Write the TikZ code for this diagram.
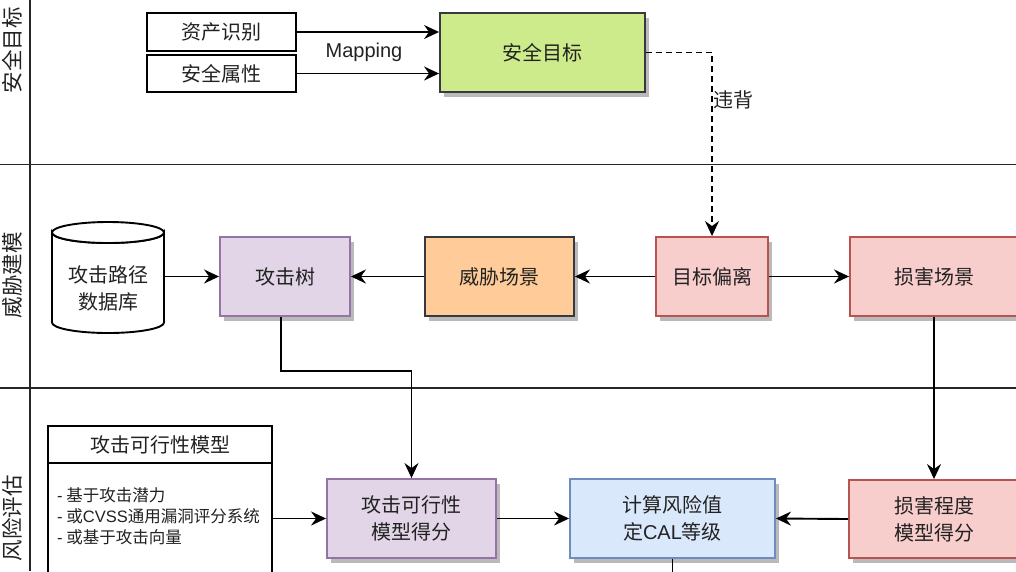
\documentclass[tikz,border=0pt]{standalone}
\usepackage{fontspec}
\setmainfont{Noto Sans CJK SC}
\newfontfamily\lat{Liberation Sans}
\usetikzlibrary{arrows.meta,shadows}
\newcommand\myfbig{\fontsize{20}{27}\selectfont}
\newcommand\myfsmall{\fontsize{16.5}{21}\selectfont}
\newcommand\myflane{\fontsize{21.5}{26}\selectfont}
\definecolor{gfill}{HTML}{CDEB8B}
\definecolor{dkline}{HTML}{36393D}
\definecolor{ofill}{HTML}{FFCC99}
\definecolor{rfill}{HTML}{F8CECC}
\definecolor{rline}{HTML}{B85450}
\definecolor{pfill}{HTML}{E1D5E7}
\definecolor{pline}{HTML}{9673A6}
\definecolor{bfill}{HTML}{DAE8FC}
\definecolor{bline}{HTML}{6C8EBF}
\definecolor{txt}{HTML}{222222}
\tikzset{
  box/.style={draw, line width=1.9pt, inner sep=0pt, align=center, font=\myfbig, text=txt},
  shad/.style={drop shadow={shadow xshift=4pt, shadow yshift=-4.5pt, fill=black!27, opacity=1}},
  arr/.style={-{Stealth[length=15pt,width=14pt,inset=5pt]}, line width=1.9pt},
  lane/.style={line width=1.4pt, draw=black!85},
  lanelabel/.style={rotate=90, font=\myflane, text=txt, inner sep=0pt},
  lbl/.style={font=\myfbig, text=txt, inner sep=0pt},
  cyl/.style={line width=1.9pt, fill=white},
}
\begin{document}
\begin{tikzpicture}[x=1pt,y=-1pt]
\useasboundingbox (0,0) rectangle (1016,571);
\fill[white] (0,0) rectangle (1016,571);
% swimlanes
\draw[lane] (30,0) -- (30,571);
\draw[lane] (0,164.5) -- (1016,164.5);
\draw[lane] (0,388) -- (1016,388);
\node[lanelabel] (l1) at (12,50) {安全目标};
\node[lanelabel] (l2) at (12,275) {威胁建模};
\node[lanelabel] (l3) at (12,518) {风险评估};
% lane 1
\node[box, fill=white, minimum width=149, minimum height=38] (asset) at (221.5,32) {资产识别};
\node[box, fill=white, minimum width=149, minimum height=37] (attr) at (221.5,73.5) {安全属性};
\node[box, shad, fill=gfill, draw=dkline, minimum width=205, minimum height=79] (goal) at (542.5,52.5) {安全目标};
\draw[arr] (asset.east) -- (asset.east -| goal.west);
\draw[arr] (attr.east) -- (attr.east -| goal.west);
\node[lbl] (map) at (364,52.5) {\lat Mapping};
% lane 2
\node[minimum width=112, minimum height=111, inner sep=0pt] (db) at (108,277.5) {};
\filldraw[cyl] (52,232.5) -- (52,322.5) arc[start angle=180, end angle=0, x radius=56, y radius=10.5] -- (164,232.5) arc[start angle=0, end angle=180, x radius=56, y radius=10.5] -- cycle;
\draw[cyl] (108,232.5) ellipse [x radius=56, y radius=10.5];
\node[lbl, align=center] (dbtext) at (108,288.5) {攻击路径\\数据库};
\node[box, shad, fill=pfill, draw=pline, minimum width=130, minimum height=79] (tree) at (285,276.5) {攻击树};
\node[box, shad, fill=ofill, draw=dkline, minimum width=149, minimum height=79] (threat) at (499.5,276.5) {威胁场景};
\node[box, shad, fill=rfill, draw=rline, minimum width=112, minimum height=79] (dev) at (712,276.5) {目标偏离};
\node[box, shad, fill=rfill, draw=rline, minimum width=168, minimum height=79] (dmg) at (934,276.5) {损害场景};
\draw[arr, dash pattern=on 6pt off 4pt] (goal.east) -| (dev.north);
\node[lbl, anchor=west] (viol) at (713,100) {违背};
\draw[arr] (db.east |- tree.west) -- (tree.west);
\draw[arr] (threat.west) -- (tree.east);
\draw[arr] (dev.west) -- (threat.east);
\draw[arr] (dev.east) -- (dmg.west);
% lane 3
\node[box, fill=white, outer sep=0pt, minimum width=224, minimum height=37] (fhead) at (160,444.5) {攻击可行性模型};
\node[box, fill=white, outer sep=0pt, minimum width=224, minimum height=140, anchor=north] (fbody) at (fhead.south) {};
\node[anchor=west, align=left, font=\myfsmall, text=txt, inner sep=0pt] (flist) at (57,516.5) {{\lat -} 基于攻击潜力\\{\lat -} 或{\lat CVSS}通用漏洞评分系统\\{\lat -} 或基于攻击向量};
\node[box, shad, fill=pfill, draw=pline, minimum width=169, minimum height=79] (feas) at (411.5,518.5) {攻击可行性\\模型得分};
\node[box, shad, fill=bfill, draw=bline, minimum width=205, minimum height=79] (calc) at (672.5,518.5) {计算风险值\\定{\lat CAL}等级};
\node[box, shad, fill=rfill, draw=rline, minimum width=170, minimum height=78] (dmgs) at (934,519) {损害程度\\模型得分};
\coordinate (calcout) at (672.5,585);
\draw[arr] ([xshift=-4pt]tree.south) -- ++(0,54) -| (feas.north);
\draw[arr] (dmg.south) -- (dmgs.north);
\draw[arr] (fbody.east |- feas.west) -- (feas.west);
\draw[arr] (feas.east) -- (calc.west);
\draw[arr] (dmgs.west) -- (calc.east);
\draw[line width=1.9pt] (calc.south) -- (calcout);
\end{tikzpicture}
\end{document}
